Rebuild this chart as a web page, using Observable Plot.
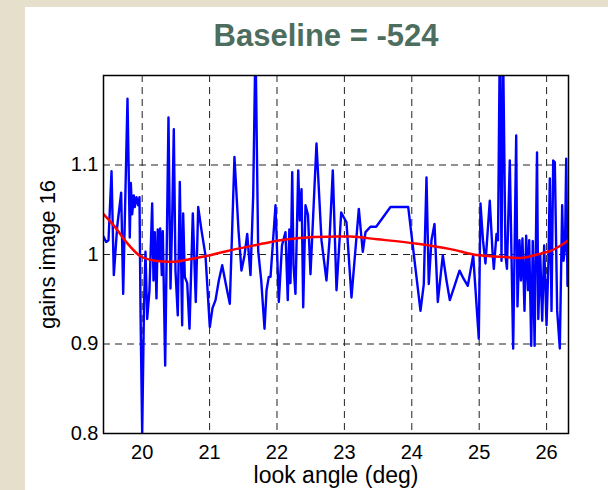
<!DOCTYPE html>
<html>
<head>
<meta charset="utf-8">
<script src="https://cdn.jsdelivr.net/npm/d3@7"></script>
<script src="https://cdn.jsdelivr.net/npm/@observablehq/plot@0.6"></script>
<style>
  html, body { margin: 0; padding: 0; }
  body { width: 608px; height: 490px; background: #e5dfcc; position: relative; overflow: hidden; }
  #panel { position: absolute; left: 25px; top: 7px; width: 583px; height: 483px; background: #ffffff; }
  #chart { position: absolute; left: 0; top: 0; }
</style>
</head>
<body>
<div id="panel"></div>
<div id="chart"></div>
<script>
const titleText = "Baseline = -524";
const xLabel = "look angle (deg)";
const yLabel = "gains image 16";
const xTicks = [20, 21, 22, 23, 24, 25, 26];
const yTicks = [0.8, 0.9, 1, 1.1];
const xGrid = [20, 21, 22, 23, 24, 25, 26];
const yGrid = [0.9, 1, 1.1];

const angle = [
  19.426,19.466,19.50,19.545,19.579,19.629,19.688,19.718,19.782,19.816,
  19.831,19.852,19.875,19.890,19.915,19.941,19.960,19.975,20.0,20.027,
  20.049,20.074,20.108,20.148,20.168,20.187,20.212,20.231,20.252,20.267,
  20.291,20.306,20.341,20.390,20.420,20.445,20.469,20.494,20.528,20.558,
  20.593,20.608,20.632,20.668,20.702,20.751,20.795,20.831,20.880,20.939,
  21.003,21.043,21.088,21.137,21.187,21.246,21.300,21.369,21.429,21.473,
  21.518,21.558,21.607,21.647,21.681,21.721,21.766,21.815,21.845,21.878,
  21.904,21.978,22.027,22.074,22.126,22.160,22.183,22.200,22.226,22.245,
  22.274,22.315,22.338,22.364,22.389,22.423,22.460,22.497,22.586,22.660,
  22.734,22.779,22.828,22.883,22.953,22.987,23.031,23.105,23.214,23.273,
  23.313,23.387,23.472,23.684,23.947,24.129,24.178,24.218,24.252,24.292,
  24.337,24.386,24.460,24.515,24.564,24.634,24.708,24.768,24.831,24.911,
  24.994,25.019,25.056,25.093,25.157,25.197,25.217,25.257,25.279,25.306,
  25.331,25.353,25.390,25.412,25.454,25.504,25.549,25.568,25.598,25.620,
  25.642,25.672,25.697,25.724,25.742,25.772,25.795,25.822,25.858,25.877,
  25.906,25.935,25.964,25.999,26.028,26.048,26.073,26.098,26.122,26.157,
  26.196,26.231,26.251,26.273,26.291,26.310,26.325
];
const gain = [
  1.020,1.014,1.016,1.093,0.977,1.031,1.069,0.956,1.174,1.019,
  1.080,1.045,1.066,1.053,1.064,1.055,1.064,0.937,0.800,0.943,
  1.003,0.928,0.960,1.057,0.971,1.025,0.951,1.028,0.993,1.029,
  0.977,1.026,0.876,1.153,0.962,1.040,1.140,0.982,0.932,1.081,
  0.921,1.046,0.975,0.968,0.917,1.046,0.947,1.053,1.027,0.999,
  0.919,0.940,0.949,0.971,0.988,0.965,0.945,1.109,1.027,0.982,
  0.999,1.023,0.977,1.066,1.240,1.004,0.971,0.917,0.960,0.975,
  0.975,1.055,0.947,1.010,1.025,0.949,1.028,0.968,1.092,0.988,
  0.956,1.094,1.038,1.073,0.941,1.055,1.044,0.978,1.124,1.016,
  0.971,1.016,1.094,0.960,1.047,1.042,1.036,0.952,1.051,1.003,
  1.025,1.031,1.031,1.053,1.053,0.937,0.967,1.086,0.967,1.016,
  1.034,0.947,0.999,0.971,0.949,0.965,0.982,0.973,0.965,0.999,
  0.906,1.057,1.016,0.990,1.060,1.004,0.984,1.023,1.016,1.240,
  0.993,1.240,0.999,0.984,1.105,0.895,1.133,0.942,1.016,0.971,
  1.018,0.937,1.021,0.960,1.016,0.898,1.015,0.898,1.114,0.928,
  0.999,0.926,1.010,0.921,0.993,1.085,0.937,1.105,1.103,0.937,
  0.895,1.055,0.993,1.007,1.107,0.965,1.016
];

const fitAngle = [19.426,19.604,19.752,19.975,20.197,20.346,20.494,20.717,20.939,21.266,21.652,22.052,22.453,22.898,23.09,23.49,24.085,24.574,24.916,25.168,25.42,25.61,25.76,25.91,26.06,26.21,26.325];
const fitGain  = [1.045,1.030,1.015,0.998,0.993,0.992,0.992,0.995,0.998,1.004,1.010,1.016,1.019,1.020,1.020,1.017,1.012,1.006,1.000,0.998,0.997,0.996,0.998,1.001,1.004,1.010,1.016];

const blue = angle.map((a, i) => ({a, g: gain[i]}));
const red = fitAngle.map((a, i) => ({a, g: fitGain[i]}));

const chart = Plot.plot({
  width: 608,
  height: 490,
  marginLeft: 103,
  marginRight: 40,
  marginTop: 75,
  marginBottom: 57,
  style: {background: "transparent", fontFamily: "'Liberation Sans', Arial, Helvetica, sans-serif", fontSize: "20px", color: "#000"},
  x: {domain: [19.426, 26.325], ticks: xTicks, tickFormat: d => String(d), tickSize: 0, tickPadding: 11, label: null},
  y: {domain: [0.8, 1.2], ticks: yTicks, tickFormat: d => String(d), tickSize: 0, tickPadding: 5, label: null},
  marks: [
    Plot.ruleX(xGrid, {x: d => d, stroke: "#222", strokeWidth: 1, strokeDasharray: "7,5"}),
    Plot.ruleY(yGrid, {y: d => d, stroke: "#222", strokeWidth: 1, strokeDasharray: "7,5"}),
    Plot.line(blue, {x: "a", y: "g", stroke: "#0000ff", strokeWidth: 2.4, clip: true}),
    Plot.line(red, {x: "a", y: "g", stroke: "#ff0000", strokeWidth: 2.5, curve: "catmull-rom", clip: true}),
    Plot.frame({stroke: "#000", strokeWidth: 1.5}),
    Plot.text([titleText], {text: d => d, frameAnchor: "top", lineAnchor: "top", dy: -52, dx: -10, fontSize: 31, fontWeight: "bold", fill: "#4d6e5f"}),
    Plot.text([xLabel], {text: d => d, frameAnchor: "bottom", lineAnchor: "bottom", dy: 49, fontSize: 23, fill: "#000"}),
    Plot.text([yLabel], {text: d => d, frameAnchor: "left", textAnchor: "middle", lineAnchor: "middle", dx: -56, rotate: -90, fontSize: 22, fill: "#000"})
  ]
});
document.getElementById("chart").appendChild(chart);
</script>
</body>
</html>
